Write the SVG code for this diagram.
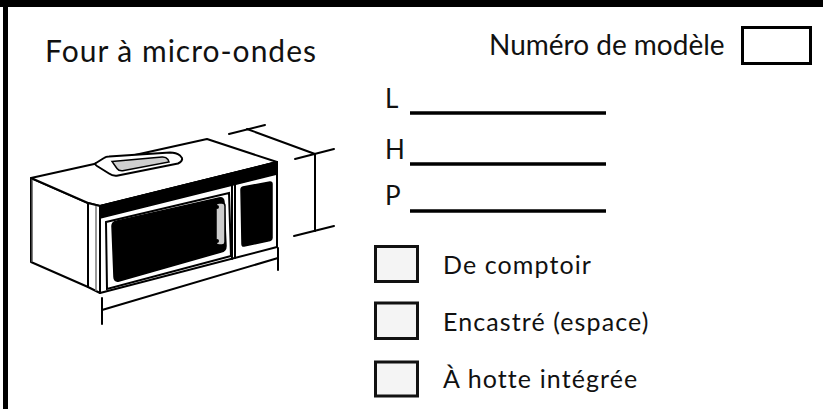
<svg xmlns="http://www.w3.org/2000/svg" width="823" height="409" viewBox="0 0 823 409">
<style>
  .t { font-family: "Lato", "Noto Sans", "DejaVu Sans", sans-serif; fill: #111; }
  .big { font-size: 30px; letter-spacing: 1px; }
  .mid { font-size: 28px; }
  .lbl { font-size: 26px; }
  .opt { font-size: 25px; letter-spacing: 1.1px; }
  .ln { stroke: #000; stroke-width: 3.5; fill: none; }
  .cb { fill: #f4f4f4; stroke: #111; stroke-width: 3; }
  .mw { stroke: #000; stroke-width: 2; fill: #fff; stroke-linejoin: round; stroke-linecap: round; }
  .mwl { stroke: #000; stroke-width: 2; fill: none; stroke-linecap: round; }
  .dim { stroke: #000; stroke-width: 2; fill: none; stroke-linecap: round; }
  .blk { fill: #000; stroke: #000; stroke-width: 1.5; stroke-linejoin: round; }
</style>
<rect width="823" height="409" fill="#fff"/>
<g id="frame">
  <rect x="0" y="0" width="823" height="7" fill="#000"/>
  <rect x="3" y="0" width="5" height="409" fill="#000"/>
</g>
<g id="title">
  <text class="t big" x="45" y="62">Four à micro-ondes</text>
</g>
<g id="model-number">
  <text class="t mid" x="489" y="55">Numéro de modèle</text>
  <rect x="742.5" y="27.5" width="68" height="36" fill="#fff" stroke="#000" stroke-width="3"/>
</g>
<g id="microwave">
  <!-- side face -->
  <polygon class="mw" points="31,178 88,203 88,287 31,262"/>
  <line x1="32" y1="179" x2="32" y2="262" stroke="#555" stroke-width="1.5"/>
  <!-- top face -->
  <polygon class="mw" points="31,178 207,139 277,162 100,206 88,203"/>
  <!-- front face -->
  <polygon class="mw" points="88,203 100,206 277,162 277,247 100,293 88,287"/>
  <line class="mwl" x1="100" y1="206" x2="100" y2="293"/>
  <line x1="96" y1="206" x2="96" y2="291" stroke="#777" stroke-width="1.5"/>
  <!-- dark band -->
  <polygon class="blk" points="100,206 277,162 277,174 100,218"/>
  <!-- door frame -->
  <polygon class="mwl" points="106,222 229,193 231,256 107,289" stroke-width="1.5"/>
  <!-- door window -->
  <path class="blk" d="M117,221 L219,198 Q224,197 224,202 L226,246 Q226,251 221,252 L119,281 Q114,282 114,277 L112,226 Q112,222 117,221 Z"/>
  <!-- handle -->
  <rect x="216" y="203" width="9" height="42" rx="3" fill="#ccc" stroke="#000" stroke-width="1.5"/>
  <circle cx="217" cy="207" r="2" fill="#000"/>
  <circle cx="217" cy="241" r="2" fill="#000"/>
  <!-- divider -->
  <line class="mwl" x1="232" y1="185" x2="232" y2="259"/>
  <line class="mwl" x1="235" y1="184" x2="235" y2="258" stroke-width="1.5"/>
  <!-- control panel window -->
  <path class="blk" d="M243,187 L270,182 Q272,182 272,184 L272,238 Q272,240 270,240.5 L244,246 Q242,246.5 242,244 L241,190 Q241,187.5 243,187 Z"/>
  <!-- right edge reinforcement -->
  <line class="mwl" x1="277" y1="162" x2="277" y2="247" stroke-width="2.5"/>
  <!-- vent on top -->
  <path class="mw" d="M96,163 L104,158 Q106,156.5 109,156.5 L170,152.5 Q176,152.5 180,155.5 L182,158 Q183,161 178,163.5 L118,175.5 Q113,176.5 109,173.5 L97,166 Q94,164 96,163 Z"/>
  <path d="M112,161.5 L162,157 Q166,156.7 168,159.5 L169,162 L124,170.5 Q119,171.5 117,168.5 Z" fill="#cfcfcf" stroke="#000" stroke-width="1.5"/>
</g>
<g id="dimensions">
  <!-- width -->
  <line class="dim" x1="102" y1="310" x2="278" y2="258"/>
  <line class="dim" x1="102" y1="298" x2="102" y2="324"/>
  <line class="dim" x1="278" y1="248" x2="278" y2="270"/>
  <!-- height -->
  <line class="dim" x1="315" y1="154" x2="315" y2="231"/>
  <line class="dim" x1="295" y1="159" x2="334" y2="149"/>
  <line class="dim" x1="294" y1="236" x2="334" y2="226"/>
  <!-- depth -->
  <line class="dim" x1="247" y1="129" x2="315" y2="154"/>
  <line class="dim" x1="229" y1="134" x2="265" y2="125"/>
</g>
<g id="dimension-fields">
  <text class="t lbl" x="385" y="108">L</text>
  <line class="ln" x1="410" y1="113" x2="606" y2="113"/>
  <text class="t lbl" x="385" y="159">H</text>
  <line class="ln" x1="410" y1="164" x2="606" y2="164"/>
  <text class="t lbl" x="385" y="205">P</text>
  <line class="ln" x1="410" y1="211" x2="606" y2="211"/>
</g>
<g id="opt-countertop">
  <rect class="cb" x="375.5" y="246.5" width="42" height="35"/>
  <text class="t opt" x="443" y="274">De comptoir</text>
</g>
<g id="opt-builtin">
  <rect class="cb" x="375.5" y="303" width="42" height="35.5"/>
  <text class="t opt" x="443" y="331">Encastré (espace)</text>
</g>
<g id="opt-hood">
  <rect class="cb" x="375.5" y="362" width="42" height="34"/>
  <text class="t opt" x="443" y="388">À hotte intégrée</text>
</g>
</svg>
